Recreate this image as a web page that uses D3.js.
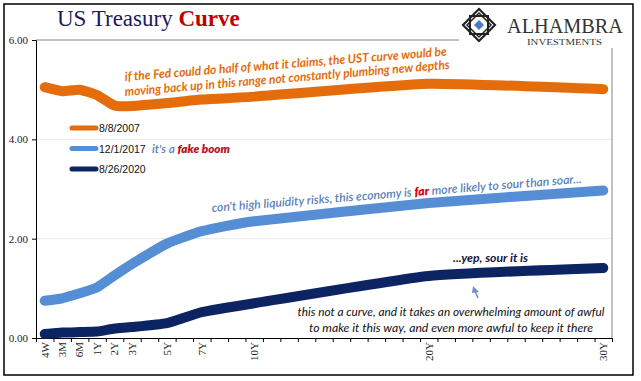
<!DOCTYPE html>
<html lang="en">
<head>
<meta charset="UTF-8">
<title>US Treasury Curve</title>
<style>
  body { margin: 0; background: #fff; }
  svg { display: block; }
  .serif { font-family: "Liberation Serif", "DejaVu Serif", serif; }
  .note { font-family: Lato, "Open Sans", sans-serif; font-style: italic; }
</style>
</head>
<body>
<svg id="chart" width="641" height="381"></svg>
<script src="https://cdnjs.cloudflare.com/ajax/libs/d3/7.8.5/d3.min.js"></script>
<script>
// axis slots (Excel category axis with blank gaps), labels only on maturities
const slots = ["4W","3M","6M","1Y","2Y","3Y","","5Y","","7Y","","","10Y",
  "","","","","","","","","","20Y","","","","","","","","","","30Y"];
const maturities = ["4W","3M","6M","1Y","2Y","3Y","5Y","7Y","10Y","20Y","30Y"];

const y2007 = [5.05, 4.97, 5.00, 4.89, 4.68, 4.67, 4.73, 4.80, 4.86, 5.12, 5.01];
const y2017 = [0.75, 0.80, 0.90, 1.02, 1.26, 1.49, 1.90, 2.15, 2.35, 2.72, 2.97];
const y2020 = [0.08, 0.11, 0.12, 0.13, 0.19, 0.22, 0.30, 0.52, 0.70, 1.25, 1.41];

const seriesNames = ["8/8/2007", "12/1/2017", "8/26/2020"];
const seriesColors = ["#e46c0a", "#558ed5", "#0c2461"];
const yTicks = [0, 2, 4, 6];

const svg = d3.select("#chart");
const L = 36, R = 612, T = 40, B = 338;

const x = d3.scaleBand().domain(d3.range(slots.length)).range([L, R]);
const xEdge = d3.scaleLinear().domain([0, slots.length]).range([L, R]);
const y = d3.scaleLinear().domain([0, 6]).range([B, T]);
const xm = m => x(slots.indexOf(m)) + x.bandwidth() / 2;

// outer frame
svg.append("rect").attr("x", 4).attr("y", 4).attr("width", 629).attr("height", 371)
  .attr("fill", "#fff").attr("stroke", "#000").attr("stroke-width", 1.5);

// gridlines
svg.append("g").selectAll("line").data([2, 4]).join("line")
  .attr("x1", L).attr("x2", R).attr("y1", d => y(d)).attr("y2", d => y(d))
  .attr("stroke", "#e6e6e6").attr("stroke-width", 1);

// plot border (top / right)
svg.append("path").attr("d", `M${L},${T}H${R}V${B}`)
  .attr("fill", "none").attr("stroke", "#868686").attr("stroke-width", 1);

// y axis
const yAxis = svg.append("g").attr("transform", `translate(${L},0)`)
  .call(d3.axisLeft(y).tickValues(yTicks).tickFormat(d3.format(".2f")).tickSize(4).tickPadding(4));
yAxis.select(".domain").attr("stroke", "#000");
yAxis.selectAll("line").attr("stroke", "#000");
yAxis.selectAll("text").attr("class", "serif").attr("font-size", 11).attr("fill", "#222");

// x axis: tick marks on slot edges
const xAxis = svg.append("g").attr("transform", `translate(0,${B})`)
  .call(d3.axisBottom(xEdge).tickValues(d3.range(slots.length + 1)).tickSize(4).tickFormat(""));
xAxis.select(".domain").attr("stroke", "#000");
xAxis.selectAll("line").attr("stroke", "#000");

// x labels, rotated
const xLab = svg.append("g").attr("transform", `translate(0,${B})`)
  .call(d3.axisBottom(x).tickValues(d3.range(slots.length).filter(i => slots[i]))
    .tickFormat(i => slots[i]).tickSize(0));
xLab.select(".domain").remove();
xLab.selectAll("text").attr("class", "serif").attr("font-size", 11).attr("fill", "#222")
  .attr("text-anchor", "end").attr("transform", "rotate(-90)")
  .attr("x", -4).attr("y", 0).attr("dy", "0.35em");

// lines
const line = d3.line().x((d, i) => xm(maturities[i])).y(d => y(d)).curve(d3.curveCardinal.tension(0.55));
[y2007, y2017, y2020].forEach((s, k) => {
  svg.append("path").datum(s).attr("d", line).attr("fill", "none")
    .attr("stroke", seriesColors[k]).attr("stroke-width", 10)
    .attr("stroke-linecap", "round").attr("stroke-linejoin", "round");
});

// legend
const lg = svg.append("g").selectAll("g").data(seriesNames).join("g")
  .attr("transform", (d, i) => `translate(70,${128 + i * 20.5})`);
lg.append("line").attr("x1", 2).attr("x2", 26).attr("stroke", (d, i) => seriesColors[i])
  .attr("stroke-width", 5).attr("stroke-linecap", "round");
lg.append("text").attr("x", 29).attr("y", 4).attr("font-family", "Arial, 'Liberation Sans', sans-serif")
  .attr("font-size", 10.5).attr("fill", "#111").text(d => d);

const boom = svg.append("text").attr("class", "note").attr("x", 152).attr("y", 153)
  .attr("font-size", 12).attr("font-weight", 600).attr("textLength", 78).attr("lengthAdjust", "spacingAndGlyphs");
boom.append("tspan").attr("fill", "#5a7fb8").text("it's a ");
boom.append("tspan").attr("fill", "#b3141c").attr("font-weight", 800).text("fake boom");

// annotations
function note(txt, x0, y0, ang, len, size, color, weight) {
  return svg.append("text").attr("class", "note")
    .attr("transform", `translate(${x0},${y0}) rotate(${ang})`)
    .attr("font-size", size).attr("font-weight", weight).attr("fill", color)
    .attr("textLength", len).attr("lengthAdjust", "spacingAndGlyphs").text(txt);
}
note("if the  Fed could do half of what it claims, the UST curve would be", 125, 81, -4.5, 323, 12.5, "#e46c0a", 700);
note("moving back up in this range not constantly plumbing new depths", 125, 96, -4.8, 326, 12.5, "#e46c0a", 700);

const liq = svg.append("text").attr("class", "note")
  .attr("transform", "translate(212,212) rotate(-4.5)")
  .attr("font-size", 12).attr("font-weight", 600).attr("fill", "#5a7fb8")
  .attr("textLength", 371).attr("lengthAdjust", "spacingAndGlyphs");
liq.append("tspan").text("con't high liquidity risks, this economy is ");
liq.append("tspan").attr("fill", "#e3000f").attr("font-weight", 800).text("far");
liq.append("tspan").text(" more likely to sour than soar...");

note("...yep, sour it is", 453, 262, 0, 75, 12, "#14143a", 700);

svg.append("text").attr("class", "note").attr("x", 451).attr("y", 316).attr("text-anchor", "middle")
  .attr("font-size", 11.5).attr("fill", "#111").attr("textLength", 307).attr("lengthAdjust", "spacingAndGlyphs")
  .text("this not a curve, and it takes an overwhelming amount of awful");
svg.append("text").attr("class", "note").attr("x", 451).attr("y", 332).attr("text-anchor", "middle")
  .attr("font-size", 11.5).attr("fill", "#111").attr("textLength", 284).attr("lengthAdjust", "spacingAndGlyphs")
  .text("to make it this way, and even more awful to keep it there");

// arrow
svg.append("line").attr("x1", 478).attr("y1", 298).attr("x2", 475).attr("y2", 291)
  .attr("stroke", "#6d8fc4").attr("stroke-width", 1.5);
svg.append("path").attr("d", "M473,286 L479,292 L472,293 Z").attr("fill", "#6d8fc4");

// title
const title = svg.append("text").attr("class", "serif").attr("x", 57).attr("y", 26).attr("font-size", 23);
title.append("tspan").attr("fill", "#1a1a5e").text("US Treasury ");
title.append("tspan").attr("fill", "#c00000").attr("font-weight", 700).text("Curve");

// logo
const logo = svg.append("g");
logo.append("rect").attr("x", 459).attr("y", 6).attr("width", 172).attr("height", 42).attr("fill", "#fff");
const cx = 479, cy = 25, r = 16;
logo.append("path").attr("d", `M${cx},${cy - r}L${cx + r},${cy}L${cx},${cy + r}L${cx - r},${cy}Z`)
  .attr("fill", "none").attr("stroke", "#222").attr("stroke-width", 2.2);
logo.append("rect").attr("x", cx - 9).attr("y", cy - 9).attr("width", 18).attr("height", 18)
  .attr("fill", "none").attr("stroke", "#222").attr("stroke-width", 2);
logo.append("path").attr("d", `M${cx},${cy - 12}L${cx + 12},${cy}L${cx},${cy + 12}L${cx - 12},${cy}Z`)
  .attr("fill", "none").attr("stroke", "#222").attr("stroke-width", 1.5);
logo.append("path").attr("d", `M${cx},${cy - 5}L${cx + 5},${cy}L${cx},${cy + 5}L${cx - 5},${cy}Z`)
  .attr("fill", "#4a7cc0");
logo.append("text").attr("class", "serif").attr("x", 507).attr("y", 33).attr("font-size", 20.5)
  .attr("fill", "#333").attr("textLength", 116).attr("lengthAdjust", "spacingAndGlyphs").text("ALHAMBRA");
logo.append("text").attr("class", "serif").attr("x", 527).attr("y", 45).attr("font-size", 9)
  .attr("fill", "#333").attr("textLength", 75).attr("lengthAdjust", "spacingAndGlyphs").text("INVESTMENTS");
</script>
</body>
</html>
